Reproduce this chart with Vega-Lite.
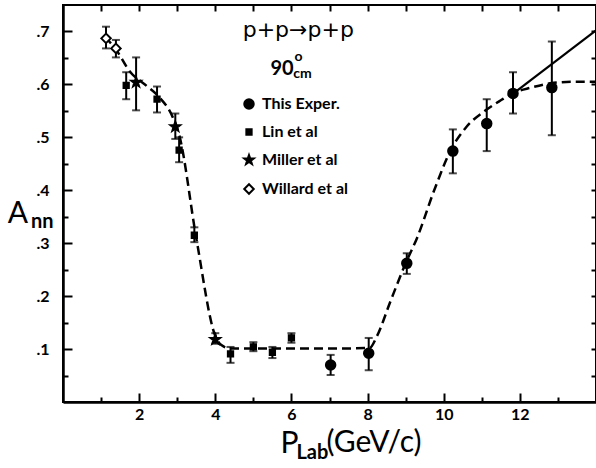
{
  "$schema": "https://vega.github.io/schema/vega-lite/v6.json",
  "width": 533,
  "height": 397,
  "autosize": {"type": "none"},
  "padding": {"left": 63, "top": 5, "right": 0, "bottom": 66},
  "background": "white",
  "config": {
    "view": {"stroke": "black", "strokeWidth": 2}
  },
  "datasets": {
    "points": [
      {"series": "Willard et al", "p": 1.13, "a": 0.687, "lo": 0.668, "hi": 0.709},
      {"series": "Willard et al", "p": 1.39, "a": 0.668, "lo": 0.651, "hi": 0.684},
      {"series": "Lin et al", "p": 1.66, "a": 0.598, "lo": 0.572, "hi": 0.623},
      {"series": "Lin et al", "p": 2.47, "a": 0.572, "lo": 0.547, "hi": 0.596},
      {"series": "Lin et al", "p": 3.05, "a": 0.476, "lo": 0.453, "hi": 0.5},
      {"series": "Lin et al", "p": 3.45, "a": 0.315, "lo": 0.302, "hi": 0.33},
      {"series": "Lin et al", "p": 4.4, "a": 0.091, "lo": 0.074, "hi": 0.104},
      {"series": "Lin et al", "p": 5.0, "a": 0.104, "lo": 0.096, "hi": 0.113},
      {"series": "Lin et al", "p": 5.5, "a": 0.094, "lo": 0.083, "hi": 0.104},
      {"series": "Lin et al", "p": 6.0, "a": 0.121, "lo": 0.112, "hi": 0.13},
      {"series": "Miller et al", "p": 1.92, "a": 0.604, "lo": 0.551, "hi": 0.651},
      {"series": "Miller et al", "p": 2.95, "a": 0.52, "lo": 0.497, "hi": 0.545},
      {"series": "Miller et al", "p": 4.0, "a": 0.118, "lo": 0.11, "hi": 0.13},
      {"series": "This Exper.", "p": 7.03, "a": 0.07, "lo": 0.051, "hi": 0.089},
      {"series": "This Exper.", "p": 8.03, "a": 0.092, "lo": 0.06, "hi": 0.121},
      {"series": "This Exper.", "p": 9.03, "a": 0.262, "lo": 0.242, "hi": 0.281},
      {"series": "This Exper.", "p": 10.24, "a": 0.474, "lo": 0.432, "hi": 0.515},
      {"series": "This Exper.", "p": 11.13, "a": 0.526, "lo": 0.474, "hi": 0.572},
      {"series": "This Exper.", "p": 11.82, "a": 0.583, "lo": 0.545, "hi": 0.623},
      {"series": "This Exper.", "p": 12.84, "a": 0.594, "lo": 0.504, "hi": 0.681}
    ],
    "curve": [
      {"p": 1.1, "a": 0.69}, {"p": 1.4, "a": 0.665}, {"p": 1.75, "a": 0.625},
      {"p": 2.2, "a": 0.597}, {"p": 2.5, "a": 0.578}, {"p": 2.9, "a": 0.535},
      {"p": 3.05, "a": 0.505}, {"p": 3.5, "a": 0.31}, {"p": 4.0, "a": 0.125},
      {"p": 4.15, "a": 0.108}, {"p": 4.4, "a": 0.101}, {"p": 5.0, "a": 0.101},
      {"p": 6.0, "a": 0.101}, {"p": 7.0, "a": 0.101}, {"p": 8.05, "a": 0.102},
      {"p": 8.25, "a": 0.125}, {"p": 8.6, "a": 0.19}, {"p": 9.0, "a": 0.262},
      {"p": 9.3, "a": 0.31}, {"p": 9.75, "a": 0.4}, {"p": 10.2, "a": 0.478},
      {"p": 10.6, "a": 0.52}, {"p": 11.1, "a": 0.551}, {"p": 11.5, "a": 0.57},
      {"p": 11.8, "a": 0.583}, {"p": 12.3, "a": 0.594}, {"p": 12.8, "a": 0.602},
      {"p": 13.4, "a": 0.605}, {"p": 14.0, "a": 0.605}
    ],
    "fit": [
      {"p": 11.78, "a": 0.58}, {"p": 14.0, "a": 0.702}
    ],
    "reaction": [{"t": "p+p→p+p", "x": 6.18, "y": 0.689}],
    "angle": [{"t": "90", "x": 5.45, "y": 0.617}],
    "angleMarks": [{"t": "o", "x": 6.08, "y": 0.645}, {"t": "cm", "x": 6.05, "y": 0.613}],
    "titles": [
      {"t": "A", "x": -1.45, "y": 0.338},
      {"t": "P", "x": 5.71, "y": -0.097},
      {"t": "(GeV/c)", "x": 6.92, "y": -0.094}
    ],
    "titleSubs": [
      {"t": "nn", "x": -0.84, "y": 0.328},
      {"t": "Lab", "x": 6.13, "y": -0.108}
    ]
  },
  "resolve": {"axis": {"x": "independent", "y": "independent"}},
  "layer": [
    {
      "data": {"name": "curve"},
      "mark": {"type": "line", "color": "black", "strokeWidth": 2.5, "strokeDash": [9, 5], "interpolate": "monotone"},
      "encoding": {
        "x": {
          "field": "p", "type": "quantitative",
          "scale": {"domain": [0, 14], "nice": false, "zero": false},
          "axis": {
            "orient": "bottom", "title": null, "grid": false,
            "values": [1, 2, 3, 4, 5, 6, 7, 8, 9, 10, 11, 12, 13],
            "labelExpr": "datum.value % 2 === 0 ? '' + datum.value : ''",
            "ticks": true,
            "tickSize": {"condition": {"test": "datum.value % 2 === 0", "value": -9}, "value": -5},
            "tickWidth": 2, "tickColor": "black", "tickOpacity": 1,
            "domain": true, "domainColor": "black", "domainWidth": 2.5,
            "labelFont": "Lato", "labelFontWeight": "bold", "labelFontSize": 16,
            "labelColor": "black", "labelPadding": 13
          }
        },
        "y": {
          "field": "a", "type": "quantitative",
          "scale": {"domain": [0, 0.75], "nice": false, "zero": false},
          "axis": {
            "orient": "left", "title": null, "grid": false,
            "values": [0.05, 0.1, 0.15, 0.2, 0.25, 0.3, 0.35, 0.4, 0.45, 0.5, 0.55, 0.6, 0.65, 0.7],
            "labelExpr": "round(datum.value * 100) % 10 === 0 ? '.' + round(datum.value * 10) : ''",
            "ticks": true,
            "tickSize": {"condition": {"test": "round(datum.value * 100) % 10 === 0", "value": -9}, "value": -5},
            "tickWidth": 2, "tickColor": "black", "tickOpacity": 1,
            "domain": true, "domainColor": "black", "domainWidth": 2.5,
            "labelFont": "Lato", "labelFontWeight": "bold", "labelFontSize": 16,
            "labelColor": "black", "labelPadding": 23
          }
        }
      }
    },
    {
      "data": {"name": "fit"},
      "mark": {"type": "line", "color": "black", "strokeWidth": 2.2},
      "encoding": {
        "x": {
          "field": "p", "type": "quantitative",
          "axis": {
            "orient": "top", "title": null, "grid": false, "labels": false, "domain": false,
            "values": [1, 2, 3, 4, 5, 6, 7, 8, 9, 10, 11, 12, 13],
            "ticks": true, "tickSize": -6, "tickWidth": 2, "tickColor": "black", "tickOpacity": 1
          }
        },
        "y": {
          "field": "a", "type": "quantitative",
          "axis": {
            "orient": "right", "title": null, "grid": false, "labels": false, "domain": false,
            "values": [0.05, 0.1, 0.15, 0.2, 0.25, 0.3, 0.35, 0.4, 0.45, 0.5, 0.55, 0.6, 0.65, 0.7],
            "ticks": true, "tickSize": -5, "tickWidth": 2, "tickColor": "black", "tickOpacity": 1
          }
        }
      }
    },
    {
      "data": {"name": "points"},
      "mark": {"type": "rule", "color": "black", "strokeWidth": 2},
      "encoding": {
        "x": {"field": "p", "type": "quantitative", "axis": null},
        "y": {"field": "lo", "type": "quantitative", "axis": null},
        "y2": {"field": "hi"}
      }
    },
    {
      "data": {"name": "points"},
      "mark": {"type": "tick", "orient": "horizontal", "color": "black", "size": 8, "thickness": 2},
      "encoding": {
        "x": {"field": "p", "type": "quantitative", "axis": null},
        "y": {"field": "lo", "type": "quantitative", "axis": null}
      }
    },
    {
      "data": {"name": "points"},
      "mark": {"type": "tick", "orient": "horizontal", "color": "black", "size": 8, "thickness": 2},
      "encoding": {
        "x": {"field": "p", "type": "quantitative", "axis": null},
        "y": {"field": "hi", "type": "quantitative", "axis": null}
      }
    },
    {
      "data": {"name": "points"},
      "mark": {"type": "point", "filled": true, "stroke": "black", "strokeWidth": 2, "opacity": 1},
      "encoding": {
        "x": {"field": "p", "type": "quantitative", "axis": null},
        "y": {"field": "a", "type": "quantitative", "axis": null},
        "shape": {
          "field": "series", "type": "nominal",
          "scale": {
            "domain": ["This Exper.", "Lin et al", "Miller et al", "Willard et al"],
            "range": ["circle", "square", "M0,-1L0.235,-0.324L0.951,-0.309L0.38,0.124L0.588,0.809L0,0.4L-0.588,0.809L-0.38,0.124L-0.951,-0.309L-0.235,-0.324Z", "diamond"]
          },
          "legend": {
            "orient": "none", "legendX": 178, "legendY": 91, "title": null, "padding": 0,
            "labelFont": "Lato", "labelFontSize": 16, "labelFontWeight": "bold", "labelColor": "black",
            "labelOffset": 5, "rowPadding": 11,
            "symbolStrokeColor": "black", "symbolStrokeWidth": 2
          }
        },
        "size": {
          "field": "series", "type": "nominal",
          "scale": {
            "type": "ordinal",
            "domain": ["This Exper.", "Lin et al", "Miller et al", "Willard et al"],
            "range": [90, 28, 100, 90]
          }
        },
        "fill": {
          "field": "series", "type": "nominal",
          "scale": {
            "domain": ["This Exper.", "Lin et al", "Miller et al", "Willard et al"],
            "range": ["black", "black", "black", "white"]
          }
        }
      }
    },
    {
      "data": {"name": "reaction"},
      "mark": {"type": "text", "align": "center", "baseline": "alphabetic", "font": "DejaVu Sans", "fontSize": 22, "color": "black"},
      "encoding": {
        "x": {"field": "x", "type": "quantitative", "axis": null},
        "y": {"field": "y", "type": "quantitative", "axis": null},
        "text": {"field": "t"}
      }
    },
    {
      "data": {"name": "angle"},
      "mark": {"type": "text", "align": "left", "baseline": "alphabetic", "font": "Lato", "fontWeight": "bold", "fontSize": 20, "color": "black"},
      "encoding": {
        "x": {"field": "x", "type": "quantitative", "axis": null},
        "y": {"field": "y", "type": "quantitative", "axis": null},
        "text": {"field": "t"}
      }
    },
    {
      "data": {"name": "angleMarks"},
      "mark": {"type": "text", "align": "left", "baseline": "alphabetic", "font": "Lato", "fontWeight": "bold", "fontSize": 14, "color": "black"},
      "encoding": {
        "x": {"field": "x", "type": "quantitative", "axis": null},
        "y": {"field": "y", "type": "quantitative", "axis": null},
        "text": {"field": "t"}
      }
    },
    {
      "data": {"name": "titles"},
      "mark": {"type": "text", "align": "left", "baseline": "alphabetic", "font": "Lato", "fontSize": 30, "color": "black"},
      "encoding": {
        "x": {"field": "x", "type": "quantitative", "axis": null},
        "y": {"field": "y", "type": "quantitative", "axis": null},
        "text": {"field": "t"}
      }
    },
    {
      "data": {"name": "titleSubs"},
      "mark": {"type": "text", "align": "left", "baseline": "alphabetic", "font": "Lato", "fontWeight": "bold", "fontSize": 20, "color": "black"},
      "encoding": {
        "x": {"field": "x", "type": "quantitative", "axis": null},
        "y": {"field": "y", "type": "quantitative", "axis": null},
        "text": {"field": "t"}
      }
    }
  ]
}
